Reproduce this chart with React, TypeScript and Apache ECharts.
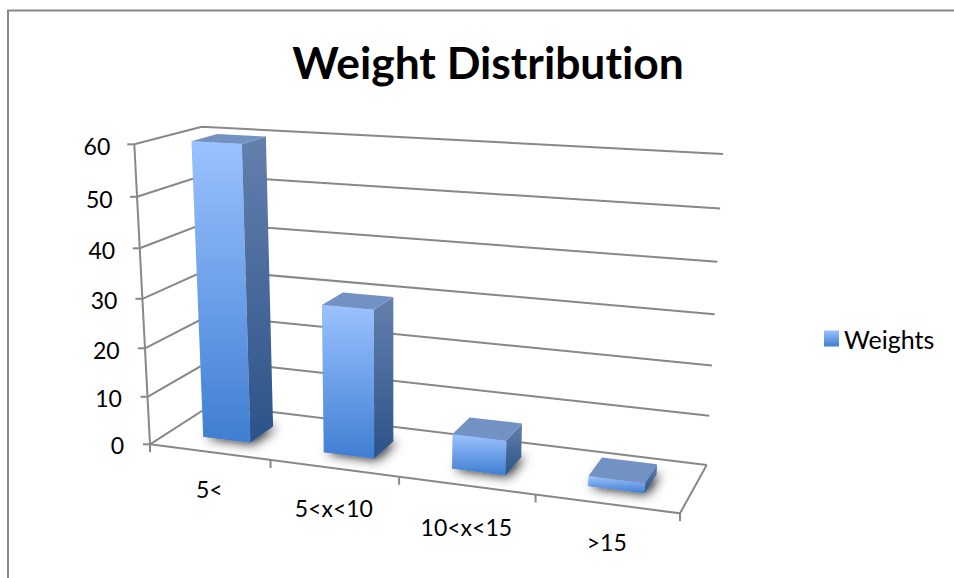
import { useEffect, useRef } from "react";
import * as echarts from "echarts";

const categories = ["5<", "5<x<10", "10<x<15", ">15"];
const weights = [60, 30, 7, 2];
const yTicks = [0, 10, 20, 30, 40, 50, 60];
const titleText = "Weight Distribution";
const seriesName = "Weights";

const FONT = "Lato, 'Noto Sans', sans-serif";
const LINE = "#888888";

// Corners of the 3D plot box on the page: F/B = front/back, L/R = left/right, B/T suffix = bottom/top.
const FLB = [150, 444.3];
const FRB = [680, 513.3];
const BLB = [212, 404.5];
const BRB = [706.7, 465];
const FLT = [134.3, 144.3];
const FRT = [702, 178];
const BLT = [201.7, 126.7];
const BRT = [723, 154];

// How far each category label hangs below the front floor edge.
const labelDrop = [37, 40, 42, 38];

const mix = (a: number[], b: number[], k: number) => [a[0] + (b[0] - a[0]) * k, a[1] + (b[1] - a[1]) * k];

// Perspective foreshortening along the width and the height of the box.
const warpU = (u: number) => 0.88 * u + 0.12 * u * u;
const warpT = (t: number) => 0.94 * t + 0.06 * t * t;

// u: 0..1 along the categories, d: 0..1 front to back, t: 0..1 along the value axis.
function project(u: number, d: number, t: number) {
  const U = warpU(u);
  const T = warpT(t);
  const bottom = mix(mix(FLB, FRB, U), mix(BLB, BRB, U), d);
  const top = mix(mix(FLT, FRT, U), mix(BLT, BRT, U), d);
  return mix(bottom, top, T);
}

// Converts a data point into box fractions through the chart's own axis scales.
function toBox(params: any, api: any, cat: number, value: number) {
  const r = params.coordSys;
  const p = api.coord([cat, value]);
  return { u: (p[0] - r.x) / r.width, t: (r.y + r.height - p[1]) / r.height };
}

const line = (points: number[][], width = 2) => ({
  type: "polyline",
  shape: { points },
  style: { stroke: LINE, lineWidth: width, fill: "none" },
  silent: true,
});

const label = (text: string, x: number, y: number, align: string, size = 23) => ({
  type: "text",
  x,
  y,
  style: { text, fill: "#000", font: `${size}px ${FONT}`, align, verticalAlign: "middle" },
  silent: true,
});

// Back-wall and side-wall gridlines with the value ticks and labels.
function renderWalls(params: any, api: any) {
  const v = api.value(1);
  const { t } = toBox(params, api, 0, v);
  const fl = project(0, 0, t);
  const children: any[] = [
    line([fl, project(0, 1, t), project(1, 1, t)]),
    line([[fl[0] - 7, fl[1]], fl]),
    label(String(v), fl[0] - 26 + 2 * t, fl[1] + 1 + t, "right"),
  ];
  if (v === 0) children.push(line([project(0, 0, 0), project(0, 0, 1)]));
  return { type: "group", children };
}

// Floor edges, category ticks and category labels.
function renderFloor(params: any, api: any) {
  const i = api.value(0);
  const band = api.size([1, 0])[0] / params.coordSys.width;
  const { u } = toBox(params, api, i, 0);
  const right = u + band / 2;
  const endPoint = project(right, 0, 0);
  const centre = project(u, 0, 0);
  const children: any[] = [
    line([endPoint, [endPoint[0], endPoint[1] + 8]]),
    label(categories[i], centre[0], centre[1] + labelDrop[i], "center"),
  ];
  if (i === 0) {
    const start = project(0, 0, 0);
    children.push(line([start, project(1, 0, 0), project(1, 1, 0)]));
    children.push(line([start, [start[0], start[1] + 8]]));
  }
  return { type: "group", children };
}

const faceFill = (top: string, bottom: string) =>
  new echarts.graphic.LinearGradient(0, 0, 0, 1, [
    { offset: 0, color: top },
    { offset: 1, color: bottom },
  ]);

// One 3D column: soft floor shadow, then front, side and top faces.
function renderBar(params: any, api: any) {
  const i = api.value(0);
  const band = api.size([1, 0])[0] / params.coordSys.width;
  const { u, t } = toBox(params, api, i, api.value(1));
  const half = band * 0.2;
  const [u0, u1] = [u - half, u + half];
  const [d0, d1] = [0.3, 0.7];
  const flb = project(u0, d0, 0);
  const frb = project(u1, d0, 0);
  const brb = project(u1, d1, 0);
  const blb = project(u0, d1, 0);
  const flt = project(u0, d0, t);
  const frt = project(u1, d0, t);
  const brt = project(u1, d1, t);
  const blt = project(u0, d1, t);
  const face = (points: number[][], fill: any) => ({
    type: "polygon",
    shape: { points },
    style: { fill, stroke: "none" },
    silent: true,
  });
  // The footprint itself stays hidden behind the faces; only its blur shows on the floor.
  const shadow = {
    type: "polygon",
    shape: { points: [flb, frb, brb, blb] },
    style: {
      fill: "#8a8a8a",
      shadowBlur: 12,
      shadowOffsetX: 3,
      shadowOffsetY: 1,
      shadowColor: "rgba(0,0,0,0.9)",
    },
    silent: true,
  };
  return {
    type: "group",
    children: [
      shadow,
      face([flt, frt, frb, flb], faceFill("#9BC2FF", "#3F7ED2")),
      face([frt, brt, brb, frb], faceFill("#6480AD", "#2B5389")),
      face([blt, brt, frt, flt], "#7292C3"),
    ],
  };
}

export default function App() {
  const ref = useRef<HTMLDivElement>(null);

  useEffect(() => {
    document.body.style.margin = "0";
    const chart = echarts.init(ref.current!, null, { renderer: "svg" });
    chart.setOption({
      animation: false,
      backgroundColor: "#fff",
      title: {
        text: titleText,
        left: 483,
        top: 34,
        textAlign: "center",
        textStyle: { fontFamily: FONT, fontWeight: "bold", fontSize: 44.4, color: "#000" },
      },
      legend: {
        data: [seriesName],
        left: 819,
        top: 321,
        icon: "rect",
        itemWidth: 15,
        itemHeight: 16,
        selectedMode: false,
        textStyle: { fontFamily: FONT, fontSize: 25, color: "#000" },
      },
      grid: { left: 134, top: 145, width: 546, height: 300 },
      xAxis: { type: "category", data: categories, show: false },
      yAxis: { type: "value", min: 0, max: 60, interval: 10, show: false },
      graphic: [
        {
          type: "polyline",
          shape: { points: [[8, 578], [8, 10.5], [954, 10.5]] },
          style: { stroke: LINE, lineWidth: 2, fill: "none" },
          silent: true,
        },
      ],
      series: [
        {
          id: "walls",
          type: "custom",
          coordinateSystem: "cartesian2d",
          renderItem: renderWalls,
          data: yTicks.map((v) => [0, v]),
          silent: true,
          z: 1,
        },
        {
          id: "floor",
          type: "custom",
          coordinateSystem: "cartesian2d",
          renderItem: renderFloor,
          data: categories.map((_, i) => [i, 0]),
          silent: true,
          z: 2,
        },
        {
          name: seriesName,
          type: "custom",
          coordinateSystem: "cartesian2d",
          renderItem: renderBar,
          data: weights.map((v, i) => [i, v]),
          itemStyle: { color: faceFill("#9BC2FF", "#3F7ED2") },
          silent: true,
          z: 3,
        },
      ],
    });
    return () => chart.dispose();
  }, []);

  return (
    <div
      ref={ref}
      style={{ position: "absolute", left: 0, top: 0, width: 954, height: 578, fontVariantLigatures: "none" }}
    />
  );
}
